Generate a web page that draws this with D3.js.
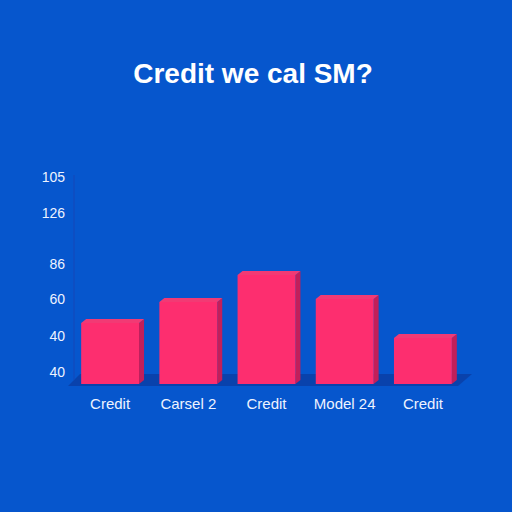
<!DOCTYPE html>
<html><head><meta charset="utf-8">
<script src="https://cdn.jsdelivr.net/npm/d3@7"></script>
<style>html,body{margin:0;padding:0;background:#0656cd;}svg{display:block;}</style>
</head><body>
<script>
const title = "Credit we cal SM?";
const categories = ["Credit", "Carsel 2", "Credit", "Model 24", "Credit"];
const values = [30.5, 41, 54.5, 42.5, 23];
const tickValues = [103.5, 85.5, 60, 42.5, 24, 6];
const tickLabels = ["105", "126", "86", "60", "40", "40"];

const W = 512, H = 512;
const svg = d3.select("body").append("svg").attr("width", W).attr("height", H);
svg.append("rect").attr("width", W).attr("height", H).attr("fill", "#0656cd");

const x = d3.scaleBand().domain(d3.range(categories.length)).range([71, 462]).paddingInner(0.26).paddingOuter(0.13);
const y = d3.scaleLinear().domain([0, 104.5]).range([384, 175]);
const dx = 5, dy = -4;

svg.append("text").attr("x", 253).attr("y", 83).attr("text-anchor", "middle")
  .attr("font-family", "Liberation Sans, Arial, sans-serif").attr("font-weight", "bold")
  .attr("font-size", 28).attr("fill", "#ffffff").text(title);

// floor
const f0 = y(0);
svg.append("path").attr("fill", "#0a40a8").attr("opacity", 0.9)
  .attr("d", `M68,${f0+2} L80,${f0-10} L472,${f0-10} L458,${f0+2} Z`);

// axis
const yAxis = d3.axisLeft(y).tickValues(tickValues).tickFormat((d, i) => tickLabels[i]).tickSize(0).tickPadding(9);
const ga = svg.append("g").attr("transform", "translate(74,0)").call(yAxis);
ga.select(".domain").attr("stroke", "#1446b8").attr("stroke-width", 1).attr("d", `M0,${y(104.5)}V${y(0)-4}`);
ga.selectAll("text").attr("fill", "#eef3ff").attr("font-size", 14)
  .attr("font-family", "Liberation Sans, Arial, sans-serif");

// bars
const g = svg.append("g");
values.forEach((v, i) => {
  const bx = x(i), bw = x.bandwidth(), top = y(v), bot = y(0);
  g.append("path").attr("fill", "#c21f5a")
    .attr("d", `M${bx+bw},${top} L${bx+bw+dx},${top+dy} L${bx+bw+dx},${bot+dy} L${bx+bw},${bot} Z`);
  g.append("path").attr("fill", "#f23a74")
    .attr("d", `M${bx},${top} L${bx+dx},${top+dy} L${bx+bw+dx},${top+dy} L${bx+bw},${top} Z`);
  g.append("rect").attr("x", bx).attr("y", top).attr("width", bw).attr("height", bot - top).attr("fill", "#fd2e6f");
});

// x labels
const xAxis = d3.axisBottom(x).tickFormat(i => categories[i]).tickSize(0).tickPadding(14);
const gx = svg.append("g").attr("transform", `translate(0,${y(0)})`).call(xAxis);
gx.select(".domain").remove();
gx.selectAll("text").attr("fill", "#eef3ff").attr("font-size", 15)
  .attr("font-family", "Liberation Sans, Arial, sans-serif");
</script>
</body></html>
